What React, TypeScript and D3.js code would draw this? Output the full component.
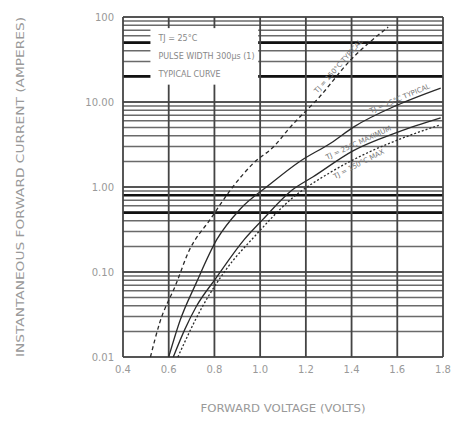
import * as d3 from "d3";

// forward voltage (V) / instantaneous forward current (A)
const hotTypV = [0.52, 0.56, 0.63, 0.69, 0.78, 0.88, 0.97, 1.06, 1.13, 1.26, 1.39, 1.56];
const hotTypI = [0.01, 0.025, 0.07, 0.18, 0.41, 1.0, 1.9, 3.0, 5.0, 11.5, 30, 76];

const roomTypV = [0.6, 0.65, 0.72, 0.81, 0.91, 1.04, 1.17, 1.31, 1.41, 1.6, 1.79];
const roomTypI = [0.01, 0.027, 0.074, 0.24, 0.54, 1.06, 1.97, 3.3, 5.1, 9.2, 14.6];

const roomMaxV = [0.62, 0.67, 0.72, 0.81, 0.93, 1.01, 1.14, 1.23, 1.41, 1.6, 1.79];
const roomMaxI = [0.01, 0.021, 0.039, 0.087, 0.24, 0.41, 0.92, 1.31, 2.7, 4.4, 6.5];

const hotMaxV = [0.64, 0.74, 0.85, 0.98, 1.13, 1.31, 1.48, 1.66, 1.79];
const hotMaxI = [0.01, 0.036, 0.106, 0.27, 0.7, 1.5, 2.6, 4.1, 5.4];

const voltTicks = [0.4, 0.6, 0.8, 1.0, 1.2, 1.4, 1.6, 1.8];
const currentTicks = [0.01, 0.1, 1, 10, 100];
const currentTickLabels = ["0.01", "0.10", "1.00", "10.00", "100"];
const heavyLines = [50, 20, 0.8, 0.5];

const legendItems = ["TJ = 25°C", "PULSE WIDTH 300μs (1)", "TYPICAL CURVE"];

const curves = [
  { name: "TJ = 150°C TYPICAL", v: hotTypV, i: hotTypI, dash: "4 3", labelAt: 1.36, below: false },
  { name: "TJ = 25°C TYPICAL", v: roomTypV, i: roomTypI, dash: null, labelAt: 1.62, below: false },
  { name: "TJ = 25°C MAXIMUM", v: roomMaxV, i: roomMaxI, dash: null, labelAt: 1.44, below: false },
  { name: "TJ = 150°C MAX", v: hotMaxV, i: hotMaxI, dash: "2 2", labelAt: 1.42, below: true },
];

const width = 455;
const height = 431;
const margin = { top: 17, right: 12, bottom: 74, left: 123 };

// log-interpolated current at voltage v
const currentAt = (v, vs, is) => {
  let k = 1;
  while (k < vs.length - 1 && vs[k] < v) k++;
  const t = (v - vs[k - 1]) / (vs[k] - vs[k - 1]);
  return Math.pow(10, Math.log10(is[k - 1]) + t * (Math.log10(is[k]) - Math.log10(is[k - 1])));
};

export default function App() {
  const x = d3.scaleLinear().domain([0.4, 1.8]).range([margin.left, width - margin.right]);
  const y = d3.scaleLog().domain([0.01, 100]).range([height - margin.bottom, margin.top]);

  // minor log grid 2..9 in every decade
  const minor = [];
  [0.01, 0.1, 1, 10].forEach((d) => {
    for (let m = 2; m <= 9; m++) minor.push(d * m);
  });

  const line = d3
    .line()
    .x((d) => x(d[0]))
    .y((d) => y(d[1]))
    .curve(d3.curveMonotoneX);

  const [x0, x1] = x.range();
  const [y0, y1] = y.range();

  return (
    <svg
      width={width}
      height={height}
      style={{ position: "absolute", left: 0, top: 0, background: "#fff" }}
      fontFamily="'DejaVu Sans', sans-serif"
    >
      {/* horizontal grid */}
      {minor.map((m) => (
        <line key={"m" + m} x1={x0} x2={x1} y1={y(m)} y2={y(m)} stroke="#6a6a6a" strokeWidth={1.5} />
      ))}
      {currentTicks.map((c) => (
        <line key={"c" + c} x1={x0} x2={x1} y1={y(c)} y2={y(c)} stroke="#555" strokeWidth={2} />
      ))}
      {heavyLines.map((c) => (
        <line key={"h" + c} x1={x0} x2={x1} y1={y(c)} y2={y(c)} stroke="#111" strokeWidth={2.6} />
      ))}
      {/* vertical grid */}
      {voltTicks.map((v) => (
        <line key={"v" + v} x1={x(v)} x2={x(v)} y1={y1} y2={y0} stroke="#444" strokeWidth={1.8} />
      ))}

      {/* legend */}
      <rect x={x(0.52)} y={y(74)} width={x(1.0) - x(0.52) - 2} height={y(16) - y(74)} fill="#fff" />
      {legendItems.map((t, k) => (
        <text key={t} x={x(0.555)} y={y(74) + 13 + k * 18} fontSize={8} fill="#888">
          {t}
        </text>
      ))}

      {/* curves */}
      {curves.map((c) => (
        <path
          key={c.name}
          d={line(c.v.map((v, k) => [v, c.i[k]]))}
          fill="none"
          stroke="#2a2a2a"
          strokeWidth={1.3}
          strokeDasharray={c.dash || undefined}
        />
      ))}
      {curves.map((c) => {
        const a = [x(c.labelAt - 0.05), y(currentAt(c.labelAt - 0.05, c.v, c.i))];
        const b = [x(c.labelAt + 0.05), y(currentAt(c.labelAt + 0.05, c.v, c.i))];
        const angle = (Math.atan2(b[1] - a[1], b[0] - a[0]) * 180) / Math.PI;
        return (
          <text
            key={"l" + c.name}
            transform={`translate(${x(c.labelAt)},${y(currentAt(c.labelAt, c.v, c.i))}) rotate(${angle})`}
            dy={c.below ? 8 : -3}
            textAnchor="middle"
            fontSize={7}
            fill="#777"
          >
            {c.name}
          </text>
        );
      })}

      {/* axis labels */}
      {currentTicks.map((c, k) => (
        <text key={"t" + c} x={x0 - 9} y={y(c)} dy="0.35em" textAnchor="end" fontSize={10} fill="#999">
          {currentTickLabels[k]}
        </text>
      ))}
      {voltTicks.map((v) => (
        <text key={"x" + v} x={x(v)} y={y0 + 16} textAnchor="middle" fontSize={10} fill="#999">
          {v.toFixed(1)}
        </text>
      ))}
      <text
        transform={`translate(24,${(y0 + y1) / 2}) rotate(-90)`}
        textAnchor="middle"
        fontSize={10}
        fill="#999"
        textLength={340}
        lengthAdjust="spacingAndGlyphs"
      >
        INSTANTANEOUS FORWARD CURRENT (AMPERES)
      </text>
      <text
        x={283}
        y={412}
        textAnchor="middle"
        fontSize={10}
        fill="#999"
        textLength={165}
        lengthAdjust="spacingAndGlyphs"
      >
        FORWARD VOLTAGE (VOLTS)
      </text>
    </svg>
  );
}
